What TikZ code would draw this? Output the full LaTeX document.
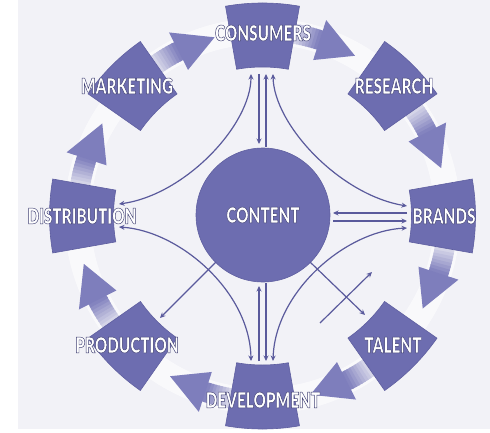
\documentclass[tikz,border=0pt]{standalone}
\usepackage{fontspec}
\newfontfamily\labfont[FakeStretch=0.71]{Lato Black}
\usetikzlibrary{arrows.meta,calc}
\definecolor{bgc}{HTML}{F2F2F7}
\definecolor{boxc}{HTML}{6D6DB0}
\definecolor{boxedge}{HTML}{5F5FA0}
\definecolor{arrowc}{HTML}{7E7EBC}
\definecolor{linec}{HTML}{5A5A9C}
\tikzset{
  conn/.style={draw=linec, line width=1.2pt, -{Stealth[length=5.5pt,width=5pt]}},
  conntwo/.style={draw=linec, line width=1.2pt, {Stealth[length=5.5pt,width=5pt]}-{Stealth[length=5.5pt,width=5pt]}},
  labtxt/.style={text=white, font=\labfont\fontsize{21.5}{22}\selectfont, inner sep=0pt},
  sector/.style={fill=boxc, draw=boxedge, line width=0.6pt},
}
% white letters with a dark purple edge, drawn as one text (fill + stroke)
\newcommand\outl[1]{\special{pdf:literal direct 2 Tr 0.45 w 0.25 0.25 0.45 RG}#1\special{pdf:literal direct 0 Tr}}
\newcommand\sectorshape[1]{%
  \path[sector] (#1-10:149) arc[start angle=#1-10,end angle=#1+10,radius=149]
     -- (#1+10:213) arc[start angle=#1+10,end angle=#1-10,radius=213] -- cycle;}
\newcommand\ringarrow[1]{%
  \pgfmathsetmacro\ta{#1-8}%
  \pgfmathsetmacro\hb{#1-18}%
  \pgfmathsetmacro\tp{#1-30}%
  \foreach \i in {0,...,9} {%
    \pgfmathsetmacro\sa{\ta-\i*(\ta-\hb)/10}%
    \pgfmathsetmacro\ea{\ta-(\i+1)*(\ta-\hb)/10-0.4}%
    \pgfmathsetmacro\pc{5+\i*10}%
    \fill[arrowc!\pc!bgc] (\sa:175) arc[start angle=\sa,end angle=\ea,radius=175]
      -- (\ea:195) arc[start angle=\ea,end angle=\sa,radius=195] -- cycle;
  }%
  \fill[arrowc] (\hb:164) -- (\tp:185) -- (\hb:206) -- cycle;}
\begin{document}
\begin{tikzpicture}[x=1pt,y=-1pt]
\useasboundingbox (0,0) rectangle (490,433);
\fill[white] (0,0) rectangle (490,433);
\fill[bgc] (18,0) rectangle (490,429);
\begin{scope}[shift={(262.5,216)}, yscale=-1]
  \draw[white, opacity=0.6, line width=26pt] (0,0) circle[radius=185];
  \foreach \A in {90,45,0,-45,-90,-135,180,135} {\ringarrow{\A}}
  \foreach \A in {90,45,0,-45,-90,-135,180,135} {\sectorshape{\A}}
\end{scope}
\node[circle, fill=boxc, draw=boxedge, line width=0.6pt, minimum size=134pt, inner sep=0pt] (contc) at (263,215) {};
% connector end points
\coordinate (cuL) at (251,74); \coordinate (cuA) at (259,74);
\coordinate (cuB) at (266,74); \coordinate (cuR) at (273,74);
\coordinate (ctA) at (259,144); \coordinate (ctB) at (266,147);
\coordinate (cbA) at (259,286); \coordinate (cbB) at (266,283);
\coordinate (dvL) at (251,361); \coordinate (dvA) at (259,361);
\coordinate (dvB) at (266,361); \coordinate (dvR) at (273,361);
\coordinate (brU) at (407,206); \coordinate (brA) at (407,213);
\coordinate (brB) at (407,221); \coordinate (brL) at (407,228);
\coordinate (crA) at (333,213); \coordinate (crB) at (333,221);
\coordinate (diU) at (119,204); \coordinate (diL) at (119,227);
\coordinate (cdl) at (216,262); \coordinate (prA) at (160,318);
\coordinate (cdr) at (310,262); \coordinate (taA) at (365,315);
\coordinate (xa) at (320,323); \coordinate (xb) at (372,272);
% connectors
\draw[conn] (cuA) -- (ctA);
\draw[conn] (ctB) -- (cuB);
\draw[conn] (dvA) -- (cbA);
\draw[conn] (cbB) -- (dvB);
\draw[conn] (brA) -- (crA);
\draw[conn] (crB) -- (brB);
\draw[conntwo] (diU) .. controls (185,195) and (251,125) .. (cuL);
\draw[conntwo] (diL) .. controls (180,231) and (250,292) .. (dvL);
\draw[conntwo] (brU) .. controls (340,195) and (274,125) .. (cuR);
\draw[conntwo] (brL) .. controls (345,231) and (275,292) .. (dvR);
\draw[conn] (cdl) -- (prA);
\draw[conn] (cdr) -- (taA);
\draw[conn] (xa) -- (xb);
% labels
\node[labtxt] (consumers) at (263,33) {\outl{CONSUMERS}};
\node[labtxt] (marketing) at (127,86) {\outl{MARKETING}};
\node[labtxt] (research) at (394,86) {\outl{RESEARCH}};
\node[labtxt] (distribution) at (82,216) {\outl{DISTRIBUTION}};
\node[labtxt] (content) at (263,215) {\outl{CONTENT}};
\node[labtxt] (brands) at (444,216) {\outl{BRANDS}};
\node[labtxt] (production) at (127,345) {\outl{PRODUCTION}};
\node[labtxt] (talent) at (393,345) {\outl{TALENT}};
\node[labtxt] (development) at (263,400) {\outl{DEVELOPMENT}};
\end{tikzpicture}
\end{document}
